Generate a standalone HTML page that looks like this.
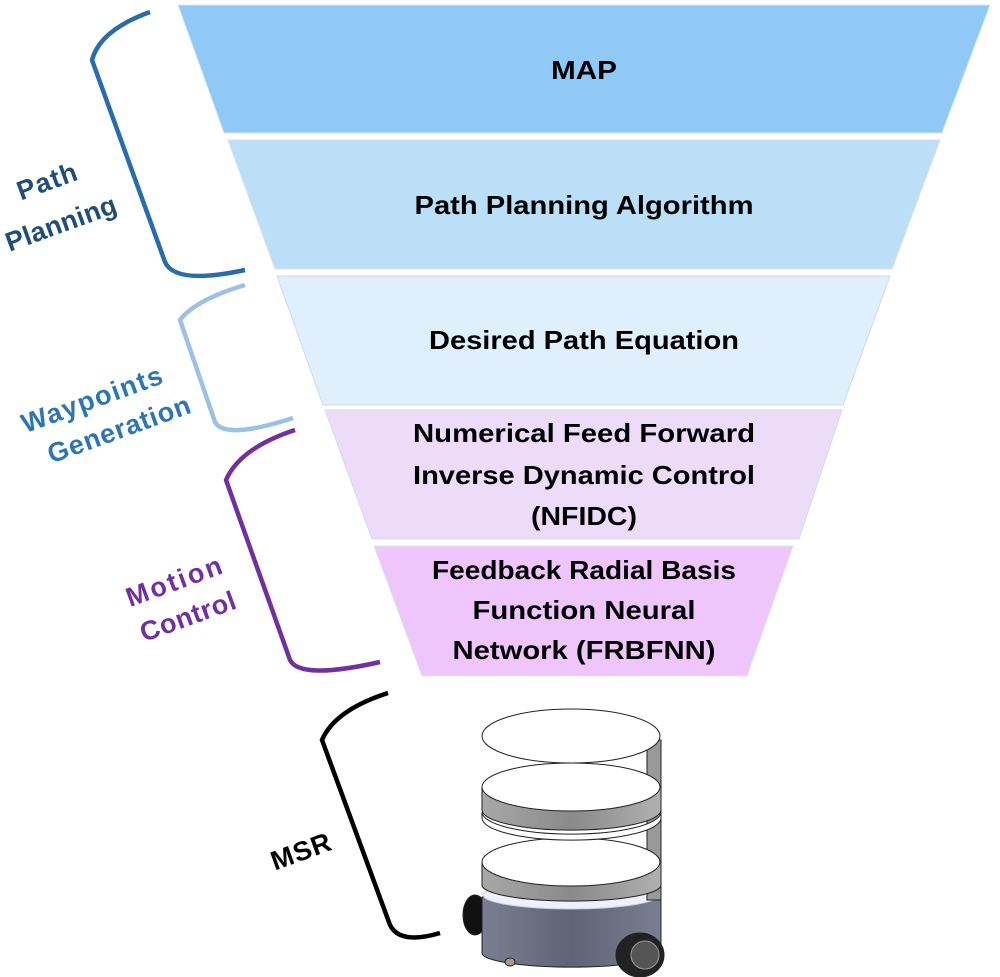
<!DOCTYPE html>
<html><head><meta charset="utf-8"><style>
html,body{margin:0;padding:0;background:#fff;}
svg{display:block;}
text{font-family:"Liberation Sans",sans-serif;font-weight:bold;}
</style></head><body>
<svg width="1000" height="977" viewBox="0 0 1000 977" xmlns="http://www.w3.org/2000/svg">
<defs>
<linearGradient id="band" x1="0" x2="1" y1="0" y2="0">
<stop offset="0" stop-color="#a8a8a8"/><stop offset="0.5" stop-color="#8a8a8a"/><stop offset="1" stop-color="#b0b0b0"/></linearGradient>
<linearGradient id="base" x1="0" x2="1" y1="0" y2="0">
<stop offset="0" stop-color="#7a7e90"/><stop offset="0.5" stop-color="#5f6375"/><stop offset="1" stop-color="#7a7e90"/></linearGradient>
</defs>
<!-- funnel -->
<polygon points="178,5 990,5 942,133 224,133" fill="#90c9f5" stroke="#dde6ee" stroke-width="1"/>
<polygon points="228,140 940,140 892,269 275,269" fill="#bcdff8" stroke="#d6e0ea" stroke-width="1"/>
<polygon points="277,276 890,276 843,405 323,405" fill="#e0effc" stroke="#d0dae4" stroke-width="1"/>
<polygon points="325,410 842,410 799,539 372,539" fill="#ecdcfa" stroke="#d4dcea" stroke-width="1"/>
<polygon points="374,546 793,546 747,676 422,676" fill="#efc6fb" stroke="#dce4ee" stroke-width="1"/>
<g fill="#000" text-anchor="middle" font-size="26">
<text x="584" y="79" textLength="66" lengthAdjust="spacingAndGlyphs">MAP</text>
<text x="584" y="214" textLength="339" lengthAdjust="spacingAndGlyphs">Path Planning Algorithm</text>
<text x="584" y="349" textLength="310" lengthAdjust="spacingAndGlyphs">Desired Path Equation</text>
<text x="584" y="442" textLength="342" lengthAdjust="spacingAndGlyphs">Numerical Feed Forward</text>
<text x="584" y="484" textLength="342" lengthAdjust="spacingAndGlyphs">Inverse Dynamic Control</text>
<text x="584" y="525" textLength="106" lengthAdjust="spacingAndGlyphs">(NFIDC)</text>
<text x="584" y="579" textLength="304" lengthAdjust="spacingAndGlyphs">Feedback Radial Basis</text>
<text x="584" y="619" textLength="223" lengthAdjust="spacingAndGlyphs">Function Neural</text>
<text x="584" y="659" textLength="263" lengthAdjust="spacingAndGlyphs">Network (FRBFNN)</text>
</g>
<!-- brackets -->
<g fill="none" stroke-width="4.5" stroke-linecap="butt">
<path d="M150,12 Q100,30 92,60 L165,262 Q175,285 245,270" stroke="#2a6bad"/>
<path d="M245,285 Q195,300 180,320 L215,422 Q225,440 293,418" stroke="#9bc2e6"/>
<path d="M295,430 Q240,448 226,480 L290,660 Q300,680 380,662" stroke="#7030a0"/>
<path d="M388,693 Q335,710 322,740 L390,925 Q400,945 440,933" stroke="#000"/>
</g>
<!-- labels -->
<g font-size="27" text-anchor="middle" lengthAdjust="spacingAndGlyphs">
<text transform="translate(50,190) rotate(-20)" fill="#1f4e79" textLength="62">Path</text>
<text transform="translate(64,232) rotate(-20)" fill="#1f4e79" textLength="116">Planning</text>
<text transform="translate(95,408) rotate(-20)" fill="#2e75b6" textLength="148">Waypoints</text>
<text transform="translate(122,438) rotate(-20)" fill="#2e75b6" textLength="150">Generation</text>
<text transform="translate(177,590) rotate(-20)" fill="#7030a0" textLength="100">Motion</text>
<text transform="translate(191,625) rotate(-20)" fill="#7030a0" textLength="100">Control</text>
<text transform="translate(304,860) rotate(-20)" fill="#000" textLength="62">MSR</text>
</g>
<!-- robot -->
<g stroke="#222" stroke-width="1">
<ellipse cx="475" cy="915" rx="12" ry="20" fill="#111"/>
<path d="M482,897 L482,953 A89,14 0 0 0 661,953 L661,897 Z" fill="url(#base)"/>
<ellipse cx="571" cy="895" rx="88" ry="14" fill="#eef0ff" stroke="#ccd"/>
<rect x="647" y="740" width="14" height="160" fill="#999"/>
<!-- ring2 -->
<path d="M482,862 L482,885 A89,16 0 0 0 661,885 L661,862 Z" fill="url(#band)"/>
<ellipse cx="571" cy="862" rx="89" ry="24" fill="#fff"/>
<!-- ring1 lower white -->
<path d="M482,812 A89,22 0 0 0 661,812 L661,818 A89,22 0 0 1 482,818 Z" fill="#fff"/>
<!-- ring1 -->
<path d="M482,787 L482,810 A89,20 0 0 0 661,810 L661,787 Z" fill="url(#band)"/>
<ellipse cx="571" cy="787" rx="89" ry="24" fill="#fff"/>
<!-- top -->
<ellipse cx="571" cy="736" rx="89" ry="27" fill="#fff"/>
<ellipse cx="640" cy="955" rx="24" ry="22" fill="#222"/>
<ellipse cx="645" cy="955" rx="14" ry="14" fill="#555" stroke="#999"/>
<ellipse cx="510" cy="962" rx="5" ry="4" fill="#a98"/>
</g>
</svg>
</body></html>
